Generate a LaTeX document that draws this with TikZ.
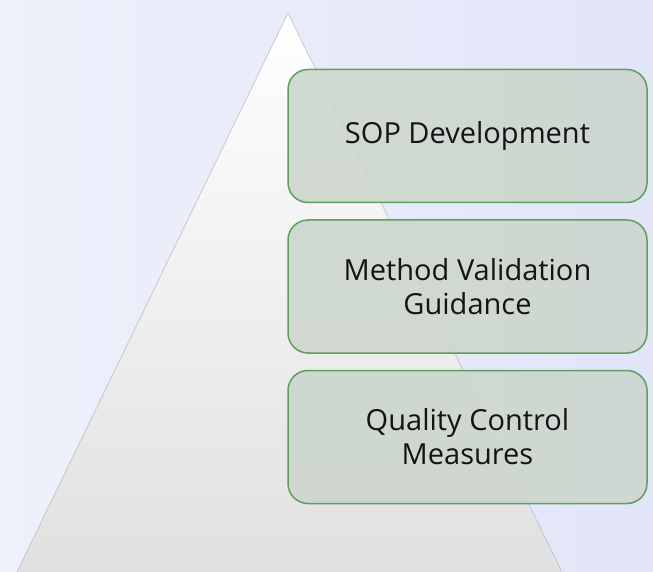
\documentclass[tikz,border=0pt]{standalone}
\usepackage{fontspec}
\setmainfont{Open Sans}
\usetikzlibrary{positioning}
\definecolor{bgleft}{RGB}{237,241,251}
\definecolor{bgright}{RGB}{226,229,248}
\definecolor{boxfill}{RGB}{204,214,204}
\definecolor{boxline}{RGB}{96,158,96}
\definecolor{txt}{RGB}{20,20,20}
\tikzset{
  stage/.style={draw=boxline, line width=1.5pt, fill=boxfill, fill opacity=0.88,
    text opacity=1, rounded corners=20pt, minimum width=359pt, minimum height=133pt,
    align=center, text=txt, font=\fontsize{29}{34}\selectfont, inner sep=0pt}
}
\begin{document}
\begin{tikzpicture}[x=1pt, y=-1pt]
    % Background
    \shade[left color=bgleft, right color=bgright] (0,0) rectangle (653,572);
    \useasboundingbox (0,0) rectangle (653,572);
    % Pyramid
    \shade[top color=white, bottom color=black!12] (288,13) -- (562,572) -- (17,572) -- cycle;
    \draw[black!25, line width=0.6pt] (17,572) -- (288,13) -- (562,572);
    % Stages
    \node[stage] (sop) at (467.5,136) {SOP Development};
    \node[stage, below=16pt of sop] (valid) {Method Validation\\Guidance};
    \node[stage, below=16pt of valid] (qc) {Quality Control\\Measures};
\end{tikzpicture}
\end{document}
